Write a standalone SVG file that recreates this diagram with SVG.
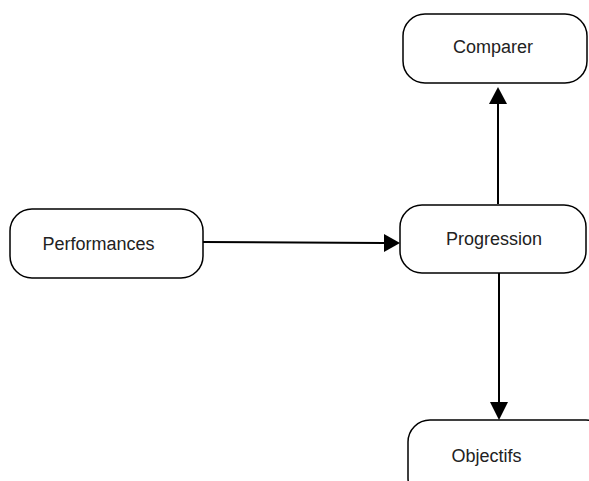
<svg xmlns="http://www.w3.org/2000/svg" width="589" height="481" viewBox="0 0 589 481">
<style>
.box{fill:#fff;stroke:#000;stroke-width:1.5}
.lbl{font-family:"Liberation Sans",Arial,sans-serif;font-size:18px;fill:#222;text-anchor:middle}
.con{stroke:#000;stroke-width:2;fill:none}
</style>
<rect width="589" height="481" fill="#fff"/>
<g id="connectors">
<path class="con" d="M203,242 L384,243"/>
<path d="M384,234 L400,243 L384,252 Z" fill="#000"/>
<path class="con" d="M498,204 L498,103"/>
<path d="M489,104 L498,87 L507,104 Z" fill="#000"/>
<path class="con" d="M499,273 L499,403"/>
<path d="M490,402 L499,420 L508,402 Z" fill="#000"/>
</g>
<g id="comparer">
<rect class="box" x="403" y="14" width="184" height="69" rx="22"/>
<text class="lbl" x="493" y="53">Comparer</text>
</g>
<g id="performances">
<rect class="box" x="10" y="209" width="193" height="69" rx="22"/>
<text class="lbl" x="98.5" y="250">Performances</text>
</g>
<g id="progression">
<rect class="box" x="400" y="205" width="186" height="68" rx="22"/>
<text class="lbl" x="494" y="245">Progression</text>
</g>
<g id="objectifs">
<rect class="box" x="408" y="420" width="200" height="80" rx="22"/>
<text class="lbl" x="486.5" y="462">Objectifs</text>
</g>
</svg>
